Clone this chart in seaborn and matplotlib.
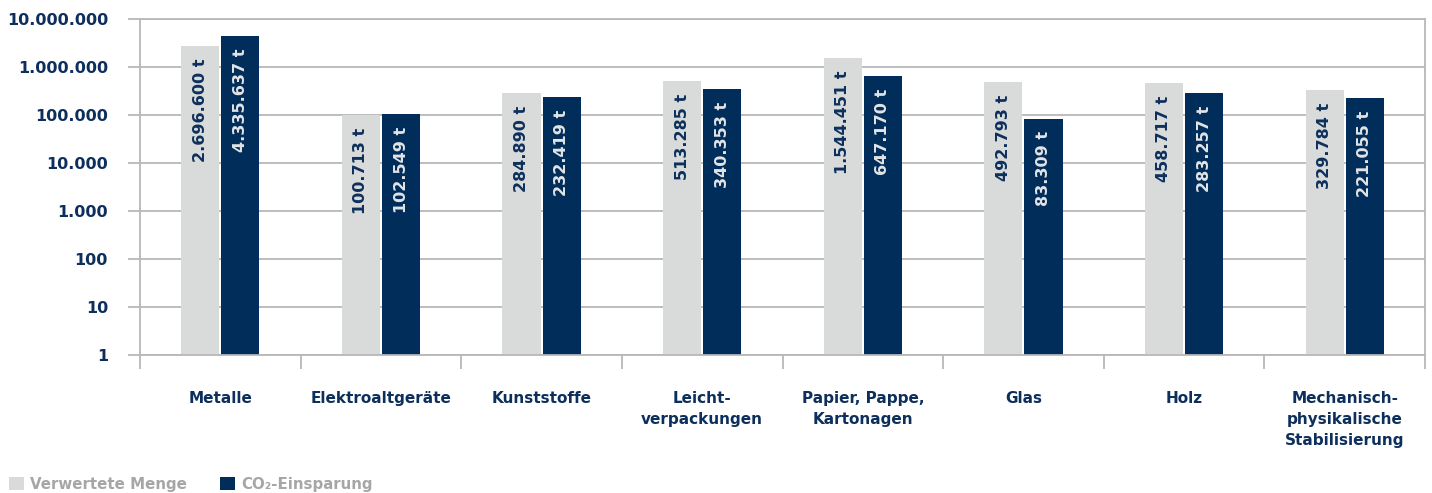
import matplotlib
matplotlib.use("Agg")
import matplotlib.pyplot as plt
import matplotlib.ticker as mticker
from matplotlib.patches import Patch
import seaborn as sns
import pandas as pd

categories = ["Metalle", "Elektroaltgeräte", "Kunststoffe", "Leicht-\nverpackungen",
              "Papier, Pappe,\nKartonagen", "Glas", "Holz",
              "Mechanisch-\nphysikalische\nStabilisierung"]
verwertet = [2696600, 100713, 284890, 513285, 1544451, 492793, 458717, 329784]
co2 = [4335637, 102549, 232419, 340353, 647170, 83309, 283257, 221055]
series_names = ["Verwertete Menge", "CO₂-Einsparung"]
y_ticks = [1, 10, 100, 1000, 10000, 100000, 1000000, 10000000]
y_tick_labels = ["1", "10", "100", "1.000", "10.000", "100.000", "1.000.000", "10.000.000"]

LIGHT = "#d9dbda"
DARK = "#002d5a"
NAVY = "#0d2f5c"
GRID = "#b8b8b8"
LEGEND_GRAY = "#a6a6a6"

sns.set_style("white")
plt.rcParams["font.family"] = ["DejaVu Sans"]
plt.rcParams["font.weight"] = "bold"

df = pd.DataFrame({
    "Kategorie": categories * 2,
    "Wert": verwertet + co2,
    "Serie": [series_names[0]] * len(categories) + [series_names[1]] * len(categories),
})

fig = plt.figure(figsize=(14.32, 4.93), dpi=100)
ax = fig.add_axes([140 / 1432, 1 - 355 / 493, (1425 - 140) / 1432, (355 - 19) / 493])

sns.barplot(data=df, x="Kategorie", y="Wert", hue="Serie", palette=[LIGHT, DARK],
            width=0.5, gap=0.05, ax=ax, legend=False,
            errorbar=None, saturation=1, edgecolor="none", linewidth=0)
ax.set_yscale("log")
ax.set_ylim(1, 1e7)
ax.set_xlim(-0.5, len(categories) - 0.5)
ax.set_xlabel("")
ax.set_ylabel("")

ax.yaxis.set_major_locator(mticker.FixedLocator(y_ticks))
ax.yaxis.set_major_formatter(mticker.FixedFormatter(y_tick_labels))
ax.yaxis.set_minor_locator(mticker.NullLocator())
ax.grid(axis="y", which="major", color=GRID, lw=1.3)
ax.set_axisbelow(True)

ax.tick_params(axis="y", which="major", length=9, width=1.3, color=GRID,
               labelcolor=NAVY, labelsize=11.5, pad=14, direction="out", left=True)
ax.set_xticks(range(len(categories)))
ax.set_xticklabels(categories, linespacing=1.5)
ax.xaxis.set_minor_locator(mticker.FixedLocator([i - 0.5 for i in range(len(categories) + 1)]))
ax.tick_params(axis="x", which="major", length=0, labelcolor=NAVY, labelsize=11, pad=26)
ax.tick_params(axis="x", which="minor", length=10, width=1.3, color=GRID, direction="out", bottom=True)
for lab in ax.get_xticklabels():
    lab.set_fontweight("bold")
    lab.set_verticalalignment("top")
for lab in ax.get_yticklabels():
    lab.set_fontweight("bold")

for sp in ax.spines.values():
    sp.set_visible(True)
    sp.set_color(GRID)
    sp.set_linewidth(1.3)

text_colors = [NAVY, "#e2e4e6"]
values_by_series = [verwertet, co2]
for ci, cont in enumerate(ax.containers):
    for patch, v in zip(cont.patches, values_by_series[ci]):
        label = f"{v:,}".replace(",", ".") + " t"
        ax.annotate(label, xy=(patch.get_x() + patch.get_width() / 2, patch.get_y() + patch.get_height()),
                    xytext=(0, -9), textcoords="offset points", rotation=90,
                    ha="center", va="top", color=text_colors[ci], fontsize=11.5,
                    fontweight="bold", zorder=5)

handles = [Patch(facecolor=LIGHT, edgecolor="none"), Patch(facecolor=DARK, edgecolor="none")]
leg = fig.legend(handles, series_names, loc="lower left", bbox_to_anchor=(-0.003, -0.025),
                 ncol=2, frameon=False, handlelength=1.0, handleheight=1.0,
                 handletextpad=0.4, columnspacing=2.2, fontsize=10.8)
for t in leg.get_texts():
    t.set_color(LEGEND_GRAY)
    t.set_fontweight("bold")

fig.savefig("out.png", dpi=100)
